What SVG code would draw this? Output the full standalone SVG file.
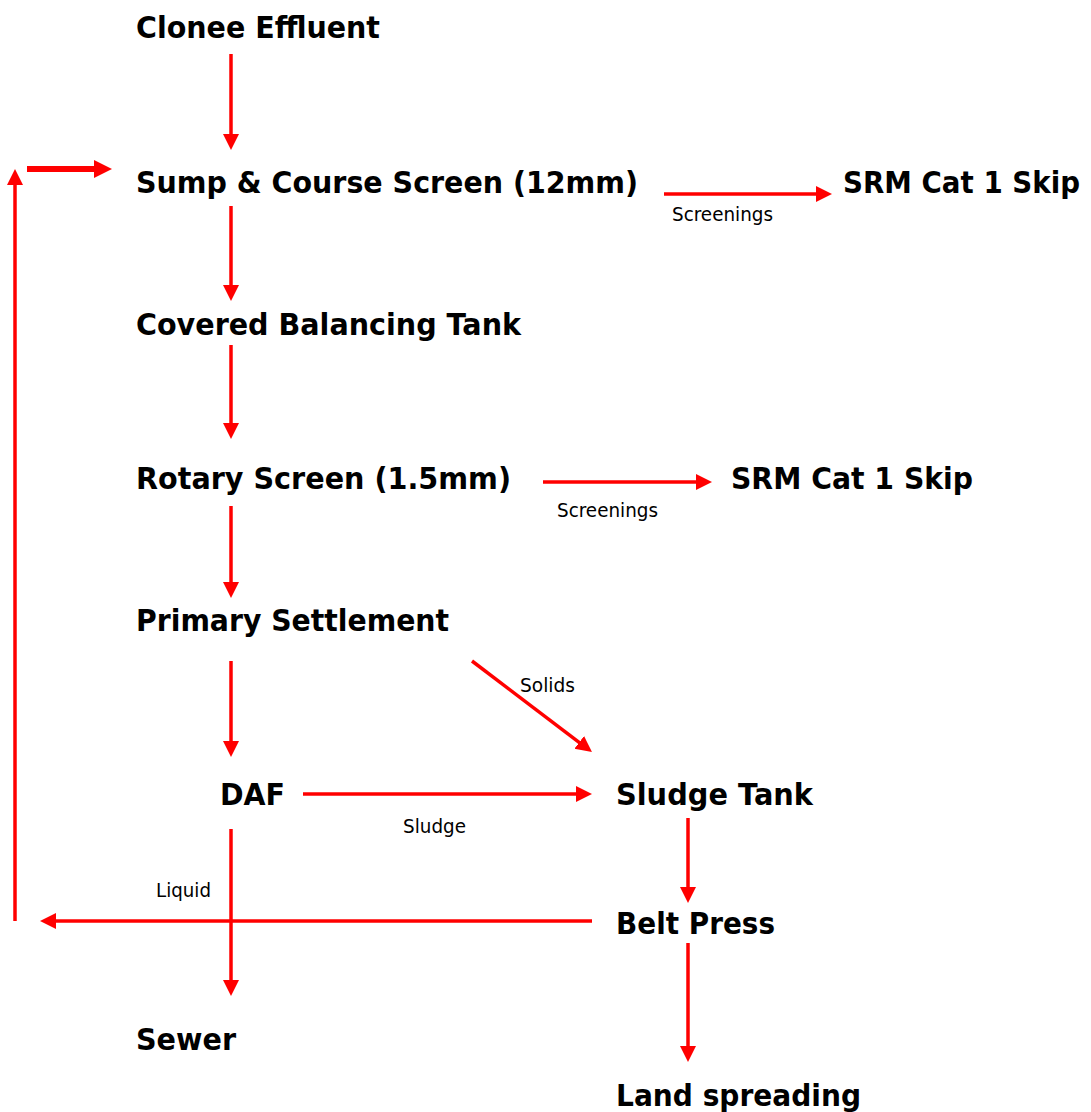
<svg xmlns="http://www.w3.org/2000/svg" width="1091" height="1112" viewBox="0 0 1091 1112">
<style>
.n{font-family:"DejaVu Sans","Liberation Sans",sans-serif;font-weight:bold;font-size:30px;fill:#000}
.l{font-family:"DejaVu Sans","Liberation Sans",sans-serif;font-size:19px;fill:#000}
.c{stroke:#ff0000;stroke-width:3.5;fill:none}
.t{stroke:#ff0000;stroke-width:6;fill:none}
</style>
<defs>
<marker id="ah" markerUnits="userSpaceOnUse" markerWidth="18" markerHeight="17" refX="4" refY="8" orient="auto">
<path d="M0,0 L16,8 L0,16 z" fill="#ff0000"/>
</marker>
<marker id="ahb" markerUnits="userSpaceOnUse" markerWidth="20" markerHeight="20" refX="5" refY="9" orient="auto">
<path d="M0,0 L18,9 L0,18 z" fill="#ff0000"/>
</marker>
</defs>
<g id="connectors">
<line class="c" x1="231" y1="54" x2="231" y2="138" marker-end="url(#ah)"/>
<line class="c" x1="231" y1="206" x2="231" y2="289" marker-end="url(#ah)"/>
<line class="c" x1="231" y1="345" x2="231" y2="427" marker-end="url(#ah)"/>
<line class="c" x1="231" y1="506" x2="231" y2="586" marker-end="url(#ah)"/>
<line class="c" x1="231" y1="661" x2="231" y2="745" marker-end="url(#ah)"/>
<line class="c" x1="231" y1="829" x2="231" y2="984" marker-end="url(#ah)"/>
<line class="c" x1="688" y1="818" x2="688" y2="891" marker-end="url(#ah)"/>
<line class="c" x1="688" y1="943" x2="688" y2="1050" marker-end="url(#ah)"/>
<line class="c" x1="664" y1="194" x2="820" y2="194" marker-end="url(#ah)"/>
<line class="c" x1="543" y1="482" x2="700" y2="482" marker-end="url(#ah)"/>
<line class="c" x1="303" y1="794" x2="580" y2="794" marker-end="url(#ah)"/>
<line class="c" x1="472" y1="661" x2="582.4" y2="744.8" marker-end="url(#ah)"/>
<line class="c" x1="592" y1="921" x2="52" y2="921" marker-end="url(#ah)"/>
<line class="c" x1="15" y1="921" x2="15" y2="181" marker-end="url(#ah)"/>
<line class="t" x1="27" y1="169" x2="99" y2="169" marker-end="url(#ahb)"/>
</g>
<g id="clonee-effluent"><text class="n" x="136" y="38" textLength="244" lengthAdjust="spacingAndGlyphs">Clonee Effluent</text></g>
<g id="sump"><text class="n" x="136" y="193" textLength="502" lengthAdjust="spacingAndGlyphs">Sump &amp; Course Screen (12mm)</text></g>
<g id="srm-skip-1"><text class="n" x="843" y="193" textLength="237" lengthAdjust="spacingAndGlyphs">SRM Cat 1 Skip</text></g>
<g id="balancing-tank"><text class="n" x="136" y="335" textLength="385" lengthAdjust="spacingAndGlyphs">Covered Balancing Tank</text></g>
<g id="rotary-screen"><text class="n" x="136" y="489" textLength="375" lengthAdjust="spacingAndGlyphs">Rotary Screen (1.5mm)</text></g>
<g id="srm-skip-2"><text class="n" x="731" y="489" textLength="242" lengthAdjust="spacingAndGlyphs">SRM Cat 1 Skip</text></g>
<g id="primary-settlement"><text class="n" x="136" y="631" textLength="313" lengthAdjust="spacingAndGlyphs">Primary Settlement</text></g>
<g id="daf"><text class="n" x="220" y="805" textLength="65" lengthAdjust="spacingAndGlyphs">DAF</text></g>
<g id="sludge-tank"><text class="n" x="616" y="805" textLength="197" lengthAdjust="spacingAndGlyphs">Sludge Tank</text></g>
<g id="belt-press"><text class="n" x="616" y="934" textLength="159" lengthAdjust="spacingAndGlyphs">Belt Press</text></g>
<g id="sewer"><text class="n" x="136" y="1050" textLength="100" lengthAdjust="spacingAndGlyphs">Sewer</text></g>
<g id="land-spreading"><text class="n" x="616" y="1106" textLength="245" lengthAdjust="spacingAndGlyphs">Land spreading</text></g>
<g id="labels">
<text class="l" x="672" y="221" textLength="101" lengthAdjust="spacingAndGlyphs">Screenings</text>
<text class="l" x="557" y="517" textLength="101" lengthAdjust="spacingAndGlyphs">Screenings</text>
<text class="l" x="520" y="692" textLength="55" lengthAdjust="spacingAndGlyphs">Solids</text>
<text class="l" x="403" y="833" textLength="63" lengthAdjust="spacingAndGlyphs">Sludge</text>
<text class="l" x="156" y="897" textLength="55" lengthAdjust="spacingAndGlyphs">Liquid</text>
</g>
</svg>
